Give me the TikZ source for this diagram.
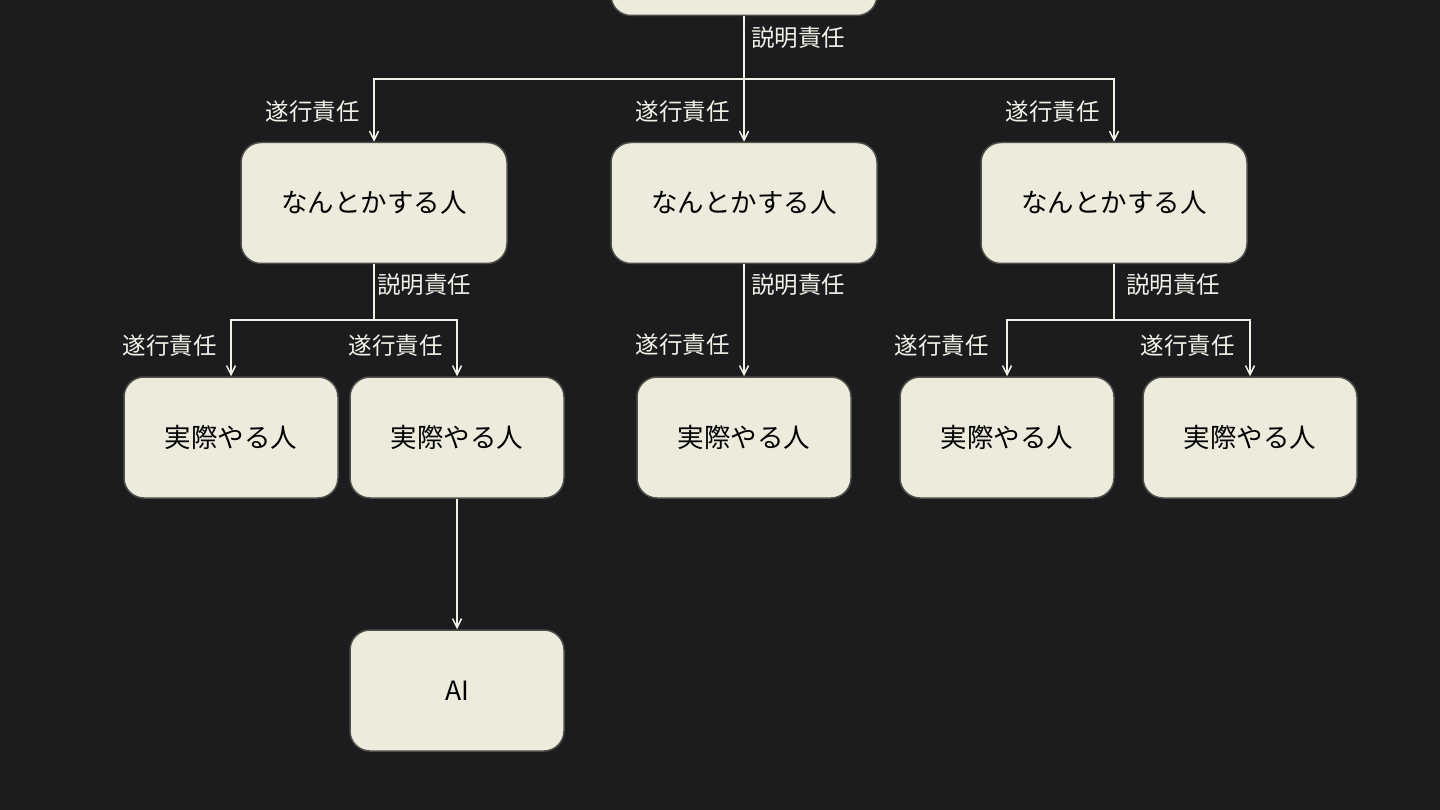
\documentclass[tikz,border=0pt]{standalone}
\usepackage{fontspec}
\setmainfont{Noto Sans CJK JP}
\usetikzlibrary{arrows.meta,positioning}
\definecolor{bgcolor}{HTML}{1B1C1E}
\definecolor{boxcolor}{HTML}{ECEBDC}
\definecolor{edgecolor}{HTML}{4E4E4A}
\definecolor{linecolor}{HTML}{F2F1E8}
\tikzset{
  box/.style={draw=edgecolor, line width=1.5pt, fill=boxcolor, rounded corners=20pt,
    minimum height=121pt, inner sep=0pt, text=black, font=\fontsize{26.5}{30}\selectfont},
  mgrbox/.style={box, minimum width=266pt},
  doerbox/.style={box, minimum width=214pt},
  link/.style={draw=linecolor, line width=1.8pt},
  arr/.style={link, -{Straight Barb[length=9pt,width=9pt,line width=1.5pt]}},
  lbl/.style={text=linecolor, inner sep=0pt, font=\fontsize{23.5}{27}\selectfont}
}
\begin{document}
\begin{tikzpicture}[x=1pt, y=-1pt]
    \useasboundingbox (0,0) rectangle (1440,810);
    \clip (0,0) rectangle (1440,810);
    \fill[bgcolor] (0,0) rectangle (1440,810);
    % boxes
    \node[mgrbox] (top) at (744,-45) {};
    \node[mgrbox] (mgrA) at (374,203) {なんとかする人};
    \node[mgrbox] (mgrB) at (744,203) {なんとかする人};
    \node[mgrbox] (mgrC) at (1114,203) {なんとかする人};
    \node[doerbox] (doerA) at (231,437.5) {実際やる人};
    \node[doerbox] (doerB) at (457,437.5) {実際やる人};
    \node[doerbox] (doerC) at (744,437.5) {実際やる人};
    \node[doerbox] (doerD) at (1007,437.5) {実際やる人};
    \node[doerbox] (doerE) at (1250,437.5) {実際やる人};
    \node[doerbox] (ai) at (457,690.5) {AI};
    % split points
    \coordinate (splitTop) at (744,79);
    \coordinate (splitA) at (374,320);
    \coordinate (splitC) at (1114,320);
    % connectors
    \draw[link] (top.south) -- (splitTop);
    \draw[arr] (splitTop) -| (mgrA.north);
    \draw[arr] (splitTop) -- (mgrB.north);
    \draw[arr] (splitTop) -| (mgrC.north);
    \draw[link] (mgrA.south) -- (splitA);
    \draw[arr] (splitA) -| (doerA.north);
    \draw[arr] (splitA) -| (doerB.north);
    \draw[arr] (mgrB.south) -- (doerC.north);
    \draw[link] (mgrC.south) -- (splitC);
    \draw[arr] (splitC) -| (doerD.north);
    \draw[arr] (splitC) -| (doerE.north);
    \draw[arr] (doerB.south) -- (ai.north);
    % labels
    \node[lbl, anchor=west] (accTop) at (751,38) {説明責任};
    \node[lbl, anchor=east] (exeA) at (360,112) {遂行責任};
    \node[lbl, anchor=east] (exeB) at (730,112) {遂行責任};
    \node[lbl, anchor=east] (exeC) at (1100,112) {遂行責任};
    \node[lbl, anchor=west] (accA) at (377,285) {説明責任};
    \node[lbl, anchor=west] (accB) at (751,285) {説明責任};
    \node[lbl, anchor=west] (accC) at (1126,285) {説明責任};
    \node[lbl, anchor=east] (exeAa) at (217,346) {遂行責任};
    \node[lbl, anchor=east] (exeAb) at (443,346) {遂行責任};
    \node[lbl, anchor=east] (exeBa) at (730,345) {遂行責任};
    \node[lbl, anchor=east] (exeCa) at (989,346) {遂行責任};
    \node[lbl, anchor=east] (exeCb) at (1235,346) {遂行責任};
\end{tikzpicture}
\end{document}
